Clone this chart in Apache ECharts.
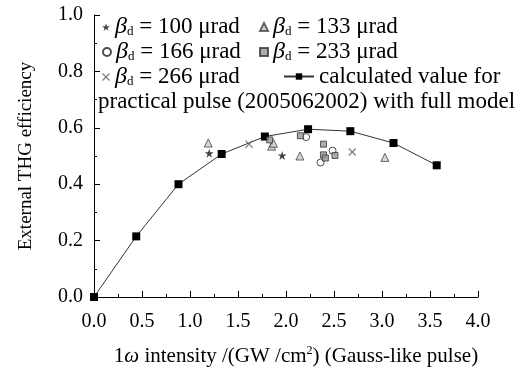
<!DOCTYPE html>
<html>
<head>
<meta charset="utf-8">
<script src="https://cdn.jsdelivr.net/npm/echarts@6/dist/echarts.min.js"></script>
<style>
  html, body { margin: 0; padding: 0; background: #fff; }
  #chart { width: 522px; height: 369px; }
</style>
</head>
<body>
<div id="chart"></div>
<script>
// calculated curve (full model)
var calcX = [0, 0.44, 0.88, 1.33, 1.78, 2.23, 2.67, 3.12, 3.57];
var calcY = [0, 0.215, 0.40, 0.507, 0.569, 0.595, 0.588, 0.546, 0.467];

// measured points for each beta_d
var b100 = [[1.20, 0.51], [1.96, 0.502]];
var b133 = [[1.19, 0.546], [1.85, 0.535], [1.87, 0.545], [2.145, 0.50], [3.03, 0.495]];
var b166 = [[2.21, 0.567], [2.36, 0.477], [2.485, 0.519]];
var b233 = [[1.83, 0.557], [2.15, 0.572], [2.39, 0.542], [2.39, 0.504], [2.41, 0.493], [2.51, 0.502]];
var b266 = [[1.615, 0.542], [2.69, 0.514]];

var xTicks = ['0.0', '0.5', '1.0', '1.5', '2.0', '2.5', '3.0', '3.5', '4.0'];
var yTicks = ['0.0', '0.2', '0.4', '0.6', '0.8', '1.0'];

var FONT = '"Liberation Serif", "DejaVu Serif", serif';
var STAR = 'path://M50,0 L61,35 L98,35 L68,57 L79,91 L50,70 L21,91 L32,57 L2,35 L39,35 Z';
var CROSS = 'path://M0,12 L12,0 L50,38 L88,0 L100,12 L62,50 L100,88 L88,100 L50,62 L12,100 L0,88 L38,50 Z';

var calcData = [];
for (var i = 0; i < calcX.length; i++) calcData.push([calcX[i], calcY[i]]);

var labels = {
  b100: '{b|β}{s|d}{t| = 100 μrad}',
  b133: '{b|β}{s|d}{t| = 133 μrad}',
  b166: '{b|β}{s|d}{t| = 166 μrad}',
  b233: '{b|β}{s|d}{t| = 233 μrad}',
  b266: '{b|β}{s|d}{t| = 266 μrad}',
  calc: '{t|calculated value for}'
};

var rich = {
  b: { fontFamily: FONT, fontStyle: 'italic', fontSize: 24, color: '#000' },
  s: { fontFamily: FONT, fontSize: 13, color: '#000', padding: [10, 0, 0, 0] },
  t: { fontFamily: FONT, fontSize: 23, color: '#000' }
};

function leg(name, left, top, w, gap) {
  return {
    data: [name], left: left, top: top, itemWidth: w || 8, itemHeight: 8,
    itemGap: gap || 12, padding: 0, selectedMode: false,
    formatter: function (n) { return labels[n]; },
    textStyle: { rich: rich }
  };
}

var chart = echarts.init(document.getElementById('chart'));
chart.setOption({
  animation: false,
  backgroundColor: '#fff',
  grid: { left: 94, right: 44, top: 15, bottom: 72, outerBoundsMode: 'none' },
  legend: [
    leg('b100', 102, 15),
    leg('b133', 259, 15, 8, 16),
    leg('b166', 102, 40),
    leg('b233', 259, 40, 8, 16),
    leg('b266', 102, 65),
    leg('calc', 283, 65, 30, 7)
  ],
  graphic: [{
    type: 'text', left: 98, top: 90,
    style: { text: 'practical pulse (2005062002) with full model', font: '23px ' + FONT, fill: '#000' }
  }],
  xAxis: {
    type: 'value', min: 0, max: 4, interval: 0.5,
    axisLine: { lineStyle: { color: '#000', width: 1 } },
    axisTick: { inside: true, length: 6, lineStyle: { color: '#000' } },
    minorTick: { show: true, splitNumber: 2, length: 3, lineStyle: { color: '#000' } },
    splitLine: { show: false },
    axisLabel: { margin: 15, fontFamily: FONT, fontSize: 20, color: '#000',
      formatter: function (v) { return xTicks[Math.round(v / 0.5)]; } },
    name: '{t|1}{w|ω}{t| intensity /(GW /cm}{p|2}{t|) (Gauss-like pulse)}',
    nameLocation: 'middle', nameGap: 48,
    nameTextStyle: { padding: [0, 0, 0, 20], rich: {
      t: { fontFamily: FONT, fontSize: 21, color: '#000' },
      w: { fontFamily: FONT, fontSize: 21, fontStyle: 'italic', color: '#000' },
      p: { fontFamily: FONT, fontSize: 12, color: '#000', padding: [0, 0, 11, 0] }
    } }
  },
  yAxis: {
    type: 'value', min: 0, max: 1, interval: 0.2,
    axisLine: { show: true, lineStyle: { color: '#000', width: 1 } },
    axisTick: { show: true, inside: true, length: 6, lineStyle: { color: '#000' } },
    minorTick: { show: true, splitNumber: 2, length: 3, lineStyle: { color: '#000' } },
    splitLine: { show: false },
    axisLabel: { margin: 11, fontFamily: FONT, fontSize: 20, color: '#000',
      formatter: function (v) { return yTicks[Math.round(v / 0.2)]; } },
    name: 'External THG efficiency', nameLocation: 'middle', nameGap: 58, nameRotate: 90,
    nameTextStyle: { fontFamily: FONT, fontSize: 19, color: '#000' }
  },
  series: [
    { name: 'b100', type: 'scatter', data: b100, symbol: STAR, symbolSize: 9,
      itemStyle: { color: '#111' } },
    { name: 'b133', type: 'scatter', data: b133, symbol: 'triangle', symbolSize: 8,
      itemStyle: { color: '#ccc', borderColor: '#444', borderWidth: 1 } },
    { name: 'b166', type: 'scatter', data: b166, symbol: 'circle', symbolSize: 7,
      itemStyle: { color: '#fff', borderColor: '#222', borderWidth: 1 } },
    { name: 'b233', type: 'scatter', data: b233, symbol: 'rect', symbolSize: 6,
      itemStyle: { color: '#999', borderColor: '#333', borderWidth: 1 } },
    { name: 'b266', type: 'scatter', data: b266, symbol: CROSS, symbolSize: 8,
      itemStyle: { color: '#666' } },
    { name: 'calc', type: 'line', data: calcData, symbol: 'rect', symbolSize: 8,
      showAllSymbol: true, z: 1,
      lineStyle: { color: '#333', width: 1 }, itemStyle: { color: '#000' } }
  ]
});
</script>
</body>
</html>
